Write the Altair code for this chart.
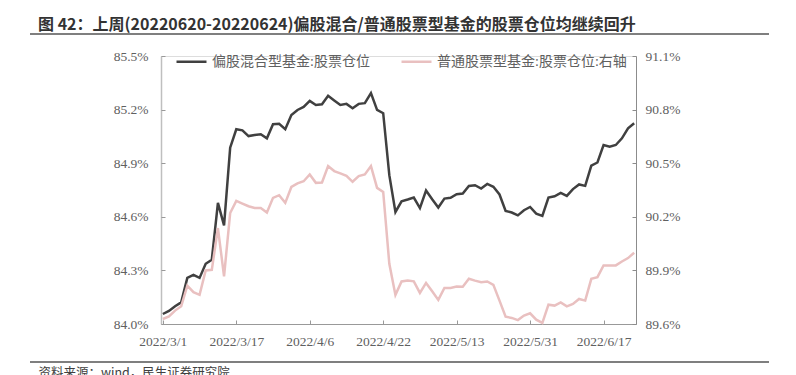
import altair as alt
import pandas as pd

dates = [
    "2022/3/1", "2022/3/2", "2022/3/3", "2022/3/4", "2022/3/7", "2022/3/8", "2022/3/9", "2022/3/10",
    "2022/3/11", "2022/3/14", "2022/3/15", "2022/3/16", "2022/3/17", "2022/3/18", "2022/3/21",
    "2022/3/22", "2022/3/23", "2022/3/24", "2022/3/25", "2022/3/28", "2022/3/29", "2022/3/30",
    "2022/3/31", "2022/4/1", "2022/4/6", "2022/4/7", "2022/4/8", "2022/4/11", "2022/4/12",
    "2022/4/13", "2022/4/14", "2022/4/15", "2022/4/18", "2022/4/19", "2022/4/20", "2022/4/21",
    "2022/4/22", "2022/4/25", "2022/4/26", "2022/4/27", "2022/4/28", "2022/4/29", "2022/5/5",
    "2022/5/6", "2022/5/9", "2022/5/10", "2022/5/11", "2022/5/12", "2022/5/13", "2022/5/16",
    "2022/5/17", "2022/5/18", "2022/5/19", "2022/5/20", "2022/5/23", "2022/5/24", "2022/5/25",
    "2022/5/26", "2022/5/27", "2022/5/30", "2022/5/31", "2022/6/1", "2022/6/2", "2022/6/6",
    "2022/6/7", "2022/6/8", "2022/6/9", "2022/6/10", "2022/6/13", "2022/6/14", "2022/6/15",
    "2022/6/16", "2022/6/17", "2022/6/20", "2022/6/21", "2022/6/22", "2022/6/23", "2022/6/24",
]

# 偏股混合型基金:股票仓位 (left axis, %)
mixed = [
    84.056, 84.073, 84.099, 84.121, 84.258, 84.275, 84.258, 84.337, 84.360, 84.678,
    84.552, 84.987, 85.090, 85.084, 85.052, 85.058, 85.062, 85.039, 85.118, 85.121,
    85.090, 85.170, 85.198, 85.215, 85.249, 85.226, 85.230, 85.277, 85.251, 85.226,
    85.232, 85.208, 85.232, 85.236, 85.292, 85.198, 85.180, 84.833, 84.627, 84.687,
    84.697, 84.708, 84.649, 84.747, 84.698, 84.652, 84.702, 84.706, 84.726, 84.730,
    84.773, 84.777, 84.758, 84.784, 84.768, 84.725, 84.633, 84.624, 84.608, 84.637,
    84.655, 84.618, 84.605, 84.708, 84.715, 84.734, 84.717, 84.755, 84.781, 84.773,
    84.886, 84.904, 85.002, 84.992, 85.002, 85.039, 85.095, 85.124,
]

# 普通股票型基金:股票仓位 (right axis, %)
stock = [
    89.628, 89.643, 89.675, 89.699, 89.815, 89.778, 89.763, 89.900, 89.903, 90.137,
    89.867, 90.221, 90.289, 90.274, 90.259, 90.249, 90.249, 90.224, 90.306, 90.321,
    90.278, 90.367, 90.387, 90.399, 90.437, 90.390, 90.392, 90.484, 90.456, 90.443,
    90.429, 90.396, 90.428, 90.437, 90.484, 90.362, 90.339, 89.937, 89.763, 89.838,
    89.843, 89.839, 89.774, 89.830, 89.783, 89.735, 89.802, 89.802, 89.810, 89.808,
    89.853, 89.843, 89.834, 89.838, 89.819, 89.731, 89.641, 89.634, 89.622, 89.647,
    89.660, 89.624, 89.606, 89.708, 89.703, 89.721, 89.699, 89.712, 89.740, 89.731,
    89.853, 89.862, 89.928, 89.928, 89.928, 89.950, 89.969, 89.999,
]

x_ticks = ["2022/3/1", "2022/3/17", "2022/4/6", "2022/4/22", "2022/5/13", "2022/5/31", "2022/6/17"]
left_ticks = [84.0, 84.3, 84.6, 84.9, 85.2, 85.5]
right_ticks = [89.6, 89.9, 90.2, 90.5, 90.8, 91.1]

s1 = "偏股混合型基金:股票仓位"
s2 = "普通股票型基金:股票仓位:右轴"
title_text = "图 42：上周(20220620-20220624)偏股混合/普通股票型基金的股票仓位均继续回升"
source_text = "资料来源：wind，民生证券研究院"

df = pd.DataFrame({
    "date": dates * 2,
    "value": mixed + stock,
    "series": [s1] * len(dates) + [s2] * len(dates),
})

NUM_FONT = "'Liberation Serif', 'Times New Roman', serif"
CJK_FONT = "'Noto Sans CJK SC'"
LBL = "#606060"
LEFT_DOM = [84.0, 85.5]
RIGHT_DOM = [89.6, 91.1]

color = alt.Color(
    "series:N",
    scale=alt.Scale(domain=[s1, s2], range=["#404040", "#E9C0C0"]),
    legend=alt.Legend(
        title=None, orient="none", legendX=14, legendY=-11, direction="horizontal",
        symbolType="stroke", symbolSize=900, symbolStrokeWidth=2.5,
        labelFont=f"'Liberation Serif', {CJK_FONT}", labelFontSize=14, labelColor=LBL,
        labelOffset=4, columnPadding=26, labelLimit=400,
    ),
)

x_scale = alt.Scale(type="point", padding=0.3)

x_main = alt.X(
    "date:O", sort=None, scale=x_scale,
    axis=alt.Axis(
        values=x_ticks, labelAngle=0, labelFont=NUM_FONT, labelFontSize=13.5,
        labelColor=LBL, labelPadding=10, tickSize=0, domainColor="#999999",
        title=source_text, titleFont=CJK_FONT, titleFontSize=12.5, titleFontWeight="normal",
        titleColor="#404040", titleX=-123, titleY=48, titleAlign="left",
        titleBaseline="middle", titleAnchor="start",
    ),
)
x_ticks_axis = alt.X(
    "date:O", sort=None, scale=x_scale,
    axis=alt.Axis(
        values=x_ticks, orient="bottom", offset=-4, tickSize=4, tickColor="#999999",
        labels=False, domain=False, title=None,
    ),
)
x_none = alt.X("date:O", sort=None, scale=x_scale, axis=None)


def y_axis_main(vals, orient, dom_color, dom_width, pad):
    return alt.Axis(values=vals, orient=orient, title=None, grid=False,
                    labelExpr="format(datum.value, '.1f') + '%'",
                    labelFont=NUM_FONT, labelFontSize=13.5, labelColor=LBL,
                    labelPadding=pad, tickSize=0, domainColor=dom_color, domainWidth=dom_width)


def y_axis_ticks(vals, orient, tick_color):
    return alt.Axis(values=vals, orient=orient, title=None, grid=False, labels=False,
                    domain=False, offset=-4, tickSize=4, tickColor=tick_color)


d1 = alt.Chart(df).transform_filter(alt.datum.series == s1)
d2 = alt.Chart(df).transform_filter(alt.datum.series == s2)

line1 = d1.mark_line(strokeWidth=2.5).encode(
    x=x_main, color=color,
    y=alt.Y("value:Q", scale=alt.Scale(domain=LEFT_DOM, nice=False, zero=False),
            axis=y_axis_main(left_ticks, "left", "#BFBFBF", 1.5, 13)),
)

line2 = d2.mark_line(strokeWidth=2.5).encode(
    x=x_none, color=color,
    y=alt.Y("value:Q", scale=alt.Scale(domain=RIGHT_DOM, nice=False, zero=False),
            axis=y_axis_main(right_ticks, "right", "#8C8C8C", 1, 9)),
)

ticks_left = d1.mark_line(opacity=0).encode(
    x=x_ticks_axis,
    y=alt.Y("value:Q", scale=alt.Scale(domain=LEFT_DOM, nice=False, zero=False),
            axis=y_axis_ticks(left_ticks, "left", "#999999")),
)

ticks_right = d2.mark_line(opacity=0).encode(
    x=x_none,
    y=alt.Y("value:Q", scale=alt.Scale(domain=RIGHT_DOM, nice=False, zero=False),
            axis=y_axis_ticks(right_ticks, "right", "#8C8C8C")),
)

deco = pd.DataFrame({"k": [0]})
top_rule = alt.Chart(deco).mark_rule(color="#7F7F7F", strokeWidth=2).encode(
    x=alt.value(-131), x2=alt.value(608), y=alt.value(-22))
bottom_rule = alt.Chart(deco).mark_rule(color="#7F7F7F", strokeWidth=2).encode(
    x=alt.value(-131), x2=alt.value(608), y=alt.value(306))

chart = alt.layer(line1, line2, ticks_left, ticks_right, top_rule, bottom_rule).resolve_scale(
    y="independent"
).resolve_axis(x="independent", y="independent").properties(
    width=475, height=268,
    autosize=alt.AutoSizeParams(type="none"),
    padding={"left": 161, "top": 56, "right": 160, "bottom": 51},
    title=alt.TitleParams(
        text=title_text, anchor="start", frame="group", dx=-123, dy=3, offset=3,
        font=CJK_FONT, fontSize=16, fontWeight="bold", color="#333333",
    ),
).configure_view(stroke=None).configure(background="white")

chart.save("out.html", embed_options={"renderer": "svg", "actions": False})
